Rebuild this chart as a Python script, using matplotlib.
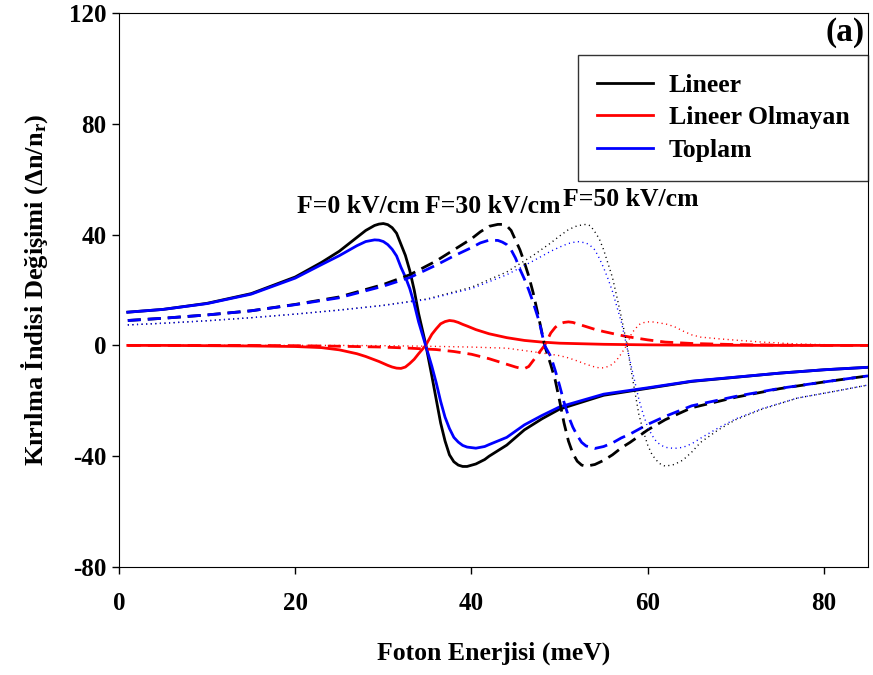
import matplotlib
matplotlib.use('Agg')
from matplotlib import pyplot as plt
from matplotlib.lines import Line2D

# photon energy (meV) and refractive index change for each field
energy_f0 = [1, 5, 10, 15, 20, 23, 25, 27, 28, 29, 29.5, 30, 30.5, 31, 31.5, 32, 32.5, 33,
             33.5, 34, 34.8, 35.5, 36, 36.5, 37, 37.5, 38, 38.5, 39, 39.5, 40.5, 41.5, 42,
             44, 46, 48, 50, 55, 60, 65, 70, 75, 80, 85]
linear_f0 = [12, 13, 15.2, 18.7, 24.7, 30, 34, 39, 41.5, 43.3, 43.8, 44, 43.6, 42.5, 40.5,
             36.5, 32.5, 27, 20, 11.5, 0.5, -11, -19.5, -28, -34.5, -39.5, -42, -43.2,
             -43.7, -43.7, -42.8, -41.2, -40, -36, -30.5, -26.5, -23, -18, -15.5, -13,
             -11.5, -10, -8.8, -7.9]
nonlinear_f0 = [0, 0, -0.1, -0.2, -0.4, -0.8, -1.6, -3.0, -4.0, -5.2, -5.8, -6.5, -7.2,
                -7.8, -8.2, -8.3, -7.8, -6.5, -5.0, -3.0, 0, 4.0, 6.0, 7.8, 8.6, 9.0, 8.8,
                8.3, 7.6, 7.0, 5.7, 4.7, 4.2, 2.8, 1.8, 1.2, 0.8, 0.4, 0.2, 0.1, 0.05, 0, 0, 0]
total_f0 = [12, 13, 15.1, 18.5, 24.3, 29.2, 32.4, 36.0, 37.5, 38.1, 38.0, 37.5, 36.4, 34.7,
            32.3, 28.2, 24.7, 20.5, 15.0, 8.5, 0, -7.5, -13.5, -20.2, -25.9, -30.0, -33.2,
            -34.9, -36.1, -36.7, -37.1, -36.5, -35.8, -33.2, -28.7, -25.3, -22.2, -17.6,
            -15.3, -12.9, -11.45, -10, -8.8, -7.9]

energy_f30 = [1, 5, 10, 15, 20, 25, 30, 33, 36, 38, 40, 41, 42, 43, 43.5, 44, 44.5, 45,
              45.5, 46, 46.5, 47, 47.7, 48.3, 49, 49.5, 50, 50.5, 51, 51.5, 52, 52.5, 53,
              54, 55, 56, 57, 58, 60, 62, 65, 70, 75, 80, 85]
linear_f30 = [9, 9.8, 11, 12.5, 14.8, 17.5, 22, 25.5, 30.5, 34.5, 38.5, 41, 43, 43.7, 43.7,
              43.2, 41.5, 38, 34.5, 30, 25, 19, 9, 0, -7, -12.5, -20, -28, -34.5, -39,
              -41.8, -43.2, -43.6, -43, -41.5, -39.5, -37, -35, -30.5, -26.8, -22.5, -18.7,
              -15.6, -13.2, -11]
nonlinear_f30 = [0, 0, 0, 0, -0.1, -0.3, -0.6, -1.0, -1.5, -2.2, -3.2, -4.0, -4.8, -5.8,
                 -6.3, -6.8, -7.3, -7.8, -8.2, -8.4, -7.6, -5.5, -2.5, 0, 4.5, 6.5, 7.8, 8.3,
                 8.5, 8.3, 7.8, 7.3, 6.8, 5.8, 5.0, 4.3, 3.6, 3.0, 2.0, 1.2, 0.7, 0.3, 0.1, 0, 0]
total_f30 = [9, 9.8, 11, 12.5, 14.7, 17.2, 21.4, 24.5, 29, 32.3, 35.3, 37, 38, 37.9, 37.3,
             36.4, 34.5, 31.5, 27.5, 24, 20, 15.5, 8.5, 0, -4, -9, -14.5, -20.5, -25.5,
             -29.5, -32.5, -35, -36.3, -37.2, -36.5, -35.2, -33.4, -32, -28.5, -25.6, -21.8,
             -18.4, -15.5, -13.2, -11]

energy_f50 = [1, 5, 10, 15, 20, 25, 30, 35, 40, 44, 47, 49, 50, 51, 52, 53, 53.5, 54, 54.5,
              55, 55.5, 56, 56.5, 57, 57.6, 58.2, 59, 59.5, 60, 60.5, 61, 61.5, 62, 63, 64,
              65, 66, 68, 70, 73, 77, 81, 85]
linear_f50 = [7.4, 8, 8.9, 10, 11.3, 12.8, 14.5, 16.8, 21, 26.5, 32.5, 37, 39.5, 41.8, 43.2,
              43.7, 43.2, 41, 38.5, 34.5, 29.5, 24.5, 17.5, 10.3, 1, -10.5, -25, -31, -36,
              -39.5, -41.5, -43, -43.6, -43, -41.4, -38.5, -35, -30.5, -26.8, -23, -19,
              -16.7, -14.3]
nonlinear_f50 = [0, 0, 0, 0, 0, 0, -0.1, -0.3, -0.6, -1, -2.3, -3.2, -3.7, -4.5, -5.6, -6.8,
                 -7.3, -7.8, -8.1, -8.1, -7.6, -6.8, -5.2, -3, 0, 4.5, 7.5, 8.2, 8.5, 8.5,
                 8.3, 8.0, 7.8, 6.8, 5.2, 3.8, 3.0, 2.4, 1.9, 1.2, 0.5, 0.2, 0.1]
total_f50 = [7.4, 8, 8.9, 10, 11.3, 12.7, 14.4, 16.6, 20.5, 25.5, 30.5, 34, 35.5, 36.8, 37.5,
             37, 36, 34.5, 31.5, 28, 24, 19.5, 14, 8.5, 0, -8.5, -19.5, -25, -29.5, -32.5,
             -34.8, -36, -36.8, -37.2, -36.8, -35.5, -33.5, -29.8, -26.5, -22.8, -19, -16.7,
             -14.3]

field_labels = ['F=0 kV/cm', 'F=30 kV/cm', 'F=50 kV/cm']
label_pos = [(20.2, 50.0), (34.7, 50.0), (50.4, 52.5)]
legend_names = ['Lineer', 'Lineer Olmayan', 'Toplam']

plt.rcParams['font.family'] = ['Liberation Serif', 'DejaVu Serif']
plt.rcParams['font.weight'] = 'bold'
plt.rcParams['axes.unicode_minus'] = False
plt.rcParams['mathtext.fontset'] = 'custom'
plt.rcParams['mathtext.rm'] = 'Liberation Serif:bold'
plt.rcParams['mathtext.it'] = 'Liberation Serif:bold'
plt.rcParams['mathtext.bf'] = 'Liberation Serif:bold'

fig = plt.figure(figsize=(8.73, 6.75), dpi=100)
ax = fig.add_axes([0.1363, 0.16, 0.858, 0.8207])

colors = ['black', 'red', 'blue']
dashed = (0, (4.7, 2.5))
dotted = (0, (0.8, 2.5))

series = [
    (energy_f0, [linear_f0, nonlinear_f0, total_f0], '-', 2.0),
    (energy_f30, [linear_f30, nonlinear_f30, total_f30], dashed, 2.0),
    (energy_f50, [linear_f50, nonlinear_f50, total_f50], dotted, 1.0),
]
for energy, curves, style, lw in series:
    for vals, c in zip(curves, colors):
        ax.plot(energy, vals, color=c, linestyle=style, linewidth=lw)

for txt, (x, y) in zip(field_labels, label_pos):
    ax.text(x, y, txt, fontsize=18.5, fontweight='bold', ha='left', va='center')

ax.text(0.996, 0.964, '(a)', transform=ax.transAxes, fontsize=24,
        fontweight='bold', ha='right', va='center')

handles = [Line2D([], [], color=c, lw=2) for c in colors]
leg = ax.legend(handles, legend_names, loc='upper right', bbox_to_anchor=(1.0, 0.924),
                borderaxespad=0, fontsize=18.5, frameon=True, fancybox=False,
                handlelength=2.2, handletextpad=0.6, labelspacing=0.38,
                borderpad=0.72)
leg.get_frame().set_edgecolor('black')
leg.get_frame().set_linewidth(1.0)
for t in leg.get_texts():
    t.set_fontweight('bold')

ax.set_xlim(0, 85)
ax.set_ylim(-80, 120)
ax.set_xticks([0, 20, 40, 60, 80])
ax.set_yticks([-80, -40, 0, 40, 80, 120])
ax.tick_params(direction='out', length=5, width=1, labelsize=18)
ax.tick_params(axis='x', pad=13)
ax.tick_params(axis='y', pad=4)
for lab in ax.get_xticklabels() + ax.get_yticklabels():
    lab.set_fontweight('bold')

ax.set_xlabel('Foton Enerjisi (meV)', fontsize=18.5, fontweight='bold', labelpad=19)
ax.set_ylabel('Kırılma İndisi Değişimi (Δn/n$_\\mathregular{r}$)', fontsize=19,
              fontweight='bold', labelpad=14)

plt.savefig('out.png', dpi=100)
